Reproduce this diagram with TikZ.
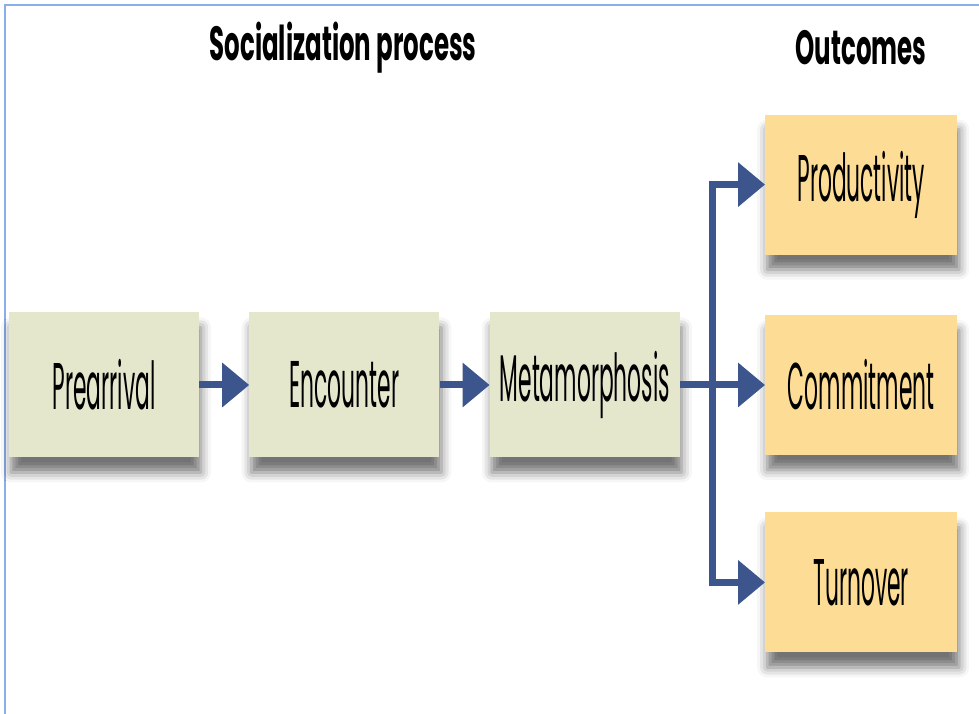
\documentclass[tikz,border=0pt]{standalone}
\usepackage{xcolor}
\usepackage{fontspec}
\usepackage{tikz}
\usetikzlibrary{positioning,arrows.meta,shadows.blur}
\newfontfamily\boxfont{Poppins}[FakeStretch=0.33]
\newfontfamily\headfont{Poppins}[FakeStretch=0.51]
\definecolor{stagegreen}{HTML}{E4E7CC}
\definecolor{outcomeorange}{HTML}{FDDC96}
\definecolor{flowblue}{HTML}{3C558C}
\definecolor{frameblue}{HTML}{8AAEE6}

\begin{document}
\begin{tikzpicture}[x=1pt, y=1pt, node distance=50pt,
    stage/.style={rectangle, fill=stagegreen, minimum width=190pt, minimum height=145pt, inner sep=0pt,
      font=\boxfont\fontsize{66}{66}\selectfont,
      blur shadow={shadow xshift=2pt, shadow yshift=-15pt, shadow blur radius=10pt, shadow opacity=55}},
    outcome/.style={stage, fill=outcomeorange, minimum width=192pt, minimum height=140pt},
    heading/.style={font=\headfont\bfseries\fontsize{48}{48}\selectfont},
    flow/.style={draw=flowblue, line width=7pt, -{Triangle[length=27pt, width=43pt]}}]
  \useasboundingbox (0,0) rectangle (979,714);
  \draw[frameblue, line width=1.5pt] (5,0) -- (5,709) -- (979,709);
  \node (prochead) [heading] at (343,666) {Socialization process};
  \node (outhead) [heading] at (861,666) {Outcomes};
  \node (pre) [stage] at (104,329) {Prearrival};
  \node (enc) [stage, right=of pre] {Encounter};
  \node (meta) [stage, right=of enc] {Metamorphosis};
  \node (commit) [outcome, right=85pt of meta] {Commitment};
  \node (prod) [outcome, above=60pt of commit] {Productivity};
  \node (turn) [outcome, below=57pt of commit] {Turnover};
  \coordinate (fork) at (712,329);
  \draw[flow] (pre) -- (enc);
  \draw[flow] (enc) -- (meta);
  \draw[flow] (meta) -- (commit);
  \draw[flow] (fork) |- (prod);
  \draw[flow] (fork) |- (turn);
\end{tikzpicture}
\end{document}
